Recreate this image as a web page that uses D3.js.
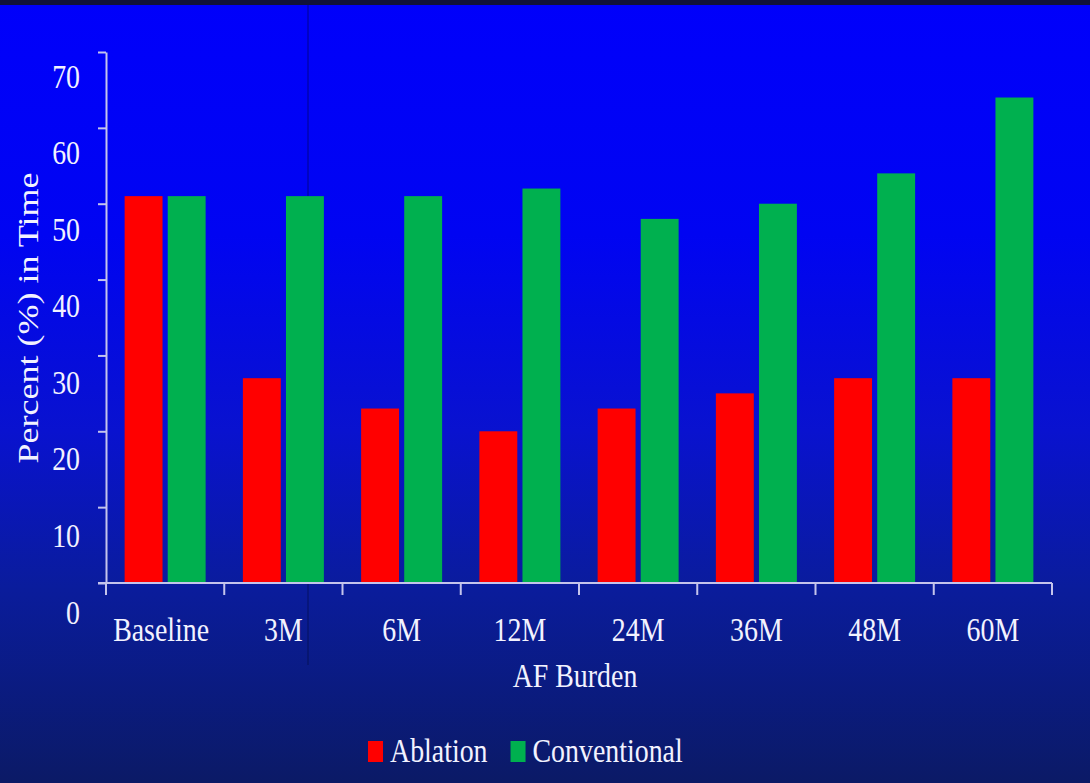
<!DOCTYPE html>
<html>
<head>
<meta charset="utf-8">
<script src="https://cdn.jsdelivr.net/npm/d3@7/dist/d3.min.js"></script>
<style>
  html, body { margin: 0; padding: 0; background: #0b1a6a; }
  svg { display: block; }
  svg text { font-family: "Liberation Serif", "DejaVu Serif", serif !important; fill: #f2f2ff; }
</style>
</head>
<body>
<svg id="chart" width="1090" height="783"></svg>
<script>
// AF burden over follow-up, percent of time in AF
const categories = ["Baseline", "3M", "6M", "12M", "24M", "36M", "48M", "60M"];
const seriesNames = ["Ablation", "Conventional"];
const ablation = [51, 27, 23, 20, 23, 25, 27, 27];
const conventional = [51, 51, 51, 52, 48, 50, 54, 64];
const yTicks = [0, 10, 20, 30, 40, 50, 60, 70];
const colors = { Ablation: "#ff0000", Conventional: "#00b04f" };

const W = 1090, H = 783;
const plot = { left: 106, right: 1052, top: 52, bottom: 583 };
const fontSize = 34, squeeze = 0.82;
const serif = '"Liberation Serif", "DejaVu Serif", serif';

const svg = d3.select("#chart");

// slide background
const defs = svg.append("defs");
const grad = defs.append("linearGradient").attr("id", "bg").attr("x1", 0).attr("y1", 0).attr("x2", 0).attr("y2", 1);
[["0%", "#0000fb"], ["30%", "#0004f2"], ["55%", "#0912cf"], ["75%", "#0a1c9c"], ["100%", "#0b1a66"]]
  .forEach(([o, c]) => grad.append("stop").attr("offset", o).attr("stop-color", c));
svg.append("rect").attr("width", W).attr("height", H).attr("fill", "url(#bg)");
svg.append("rect").attr("width", W).attr("height", 5).attr("fill", "#11123a");
svg.append("line").attr("x1", 308).attr("x2", 308).attr("y1", 5).attr("y2", 665)
  .attr("stroke", "#000830").attr("stroke-opacity", 0.35).attr("stroke-width", 1.5);

const rows = categories.map((c, i) => ({ cat: c, Ablation: ablation[i], Conventional: conventional[i] }));

const x0 = d3.scaleBand().domain(categories).range([plot.left, plot.right]).paddingInner(0.315).paddingOuter(0.1575);
const x1 = d3.scaleBand().domain(seriesNames).range([0, x0.bandwidth()]).paddingInner(0.12);
const y = d3.scaleLinear().domain([0, 70]).range([plot.bottom, plot.top]);

// bars
svg.append("g").selectAll("g").data(rows).join("g")
  .attr("transform", d => `translate(${x0(d.cat)},0)`)
  .selectAll("rect").data(d => seriesNames.map(s => ({ s, v: d[s] }))).join("rect")
  .attr("x", d => x1(d.s)).attr("width", x1.bandwidth())
  .attr("y", d => y(d.v)).attr("height", d => y(0) - y(d.v))
  .attr("fill", d => colors[d.s]);

const axisColor = "#c4c4ec";

// y axis; labels sit below their tick marks
const gy = svg.append("g").attr("transform", `translate(${plot.left},0)`)
  .call(d3.axisLeft(y).tickValues(yTicks).tickSize(8).tickSizeOuter(0));
gy.attr("font-family", serif).attr("font-size", null);
gy.select(".domain").attr("stroke", axisColor).attr("stroke-width", 2);
gy.selectAll(".tick line").attr("stroke", axisColor).attr("stroke-width", 2);
gy.selectAll(".tick text")
  .attr("x", null).attr("dy", null).attr("fill", null)
  .attr("transform", d => `translate(-26,${35 + (70 - d) / 70 * 5}) scale(${squeeze},1)`)
  .attr("text-anchor", "end")
  .style("font-family", serif)
  .style("font-size", fontSize + "px");

// x axis
const xTickPos = d3.range(categories.length + 1).map(i => plot.left + i * x0.step());
const gx = svg.append("g");
gx.append("line").attr("x1", plot.left - 8).attr("x2", plot.right).attr("y1", plot.bottom).attr("y2", plot.bottom)
  .attr("stroke", axisColor).attr("stroke-width", 2);
gx.selectAll("line.tk").data(xTickPos).join("line").attr("class", "tk")
  .attr("x1", d => d).attr("x2", d => d).attr("y1", plot.bottom).attr("y2", plot.bottom + 12)
  .attr("stroke", axisColor).attr("stroke-width", 2);
gx.selectAll("text").data(categories).join("text")
  .attr("transform", d => `translate(${x0(d) + x0.bandwidth() / 2 - (d === "Baseline" ? 4 : 0)},641) scale(${squeeze},1)`)
  .attr("text-anchor", "middle").style("font-family", serif).style("font-size", fontSize + "px").text(d => d);

// axis titles
svg.append("text")
  .attr("transform", `translate(${(plot.left + plot.right) / 2 - 4},687) scale(${squeeze},1)`)
  .attr("text-anchor", "middle").style("font-family", serif).style("font-size", fontSize + "px").text("AF Burden");
svg.append("text")
  .attr("transform", `translate(38,318) scale(${squeeze},1) rotate(-90)`)
  .attr("text-anchor", "middle").style("font-family", serif).style("font-size", "36px").text("Percent (%) in Time");

// legend
const legend = svg.append("g");
let lx = 368;
seriesNames.forEach(s => {
  legend.append("rect").attr("x", lx).attr("y", 741).attr("width", 15).attr("height", 21).attr("fill", colors[s]);
  const t = legend.append("text")
    .attr("transform", `translate(${lx + 22},762) scale(${squeeze},1)`)
    .style("font-family", serif).style("font-size", fontSize + "px").text(s);
  lx += 22 + t.node().getComputedTextLength() * squeeze + 23;
});
</script>
</body>
</html>
